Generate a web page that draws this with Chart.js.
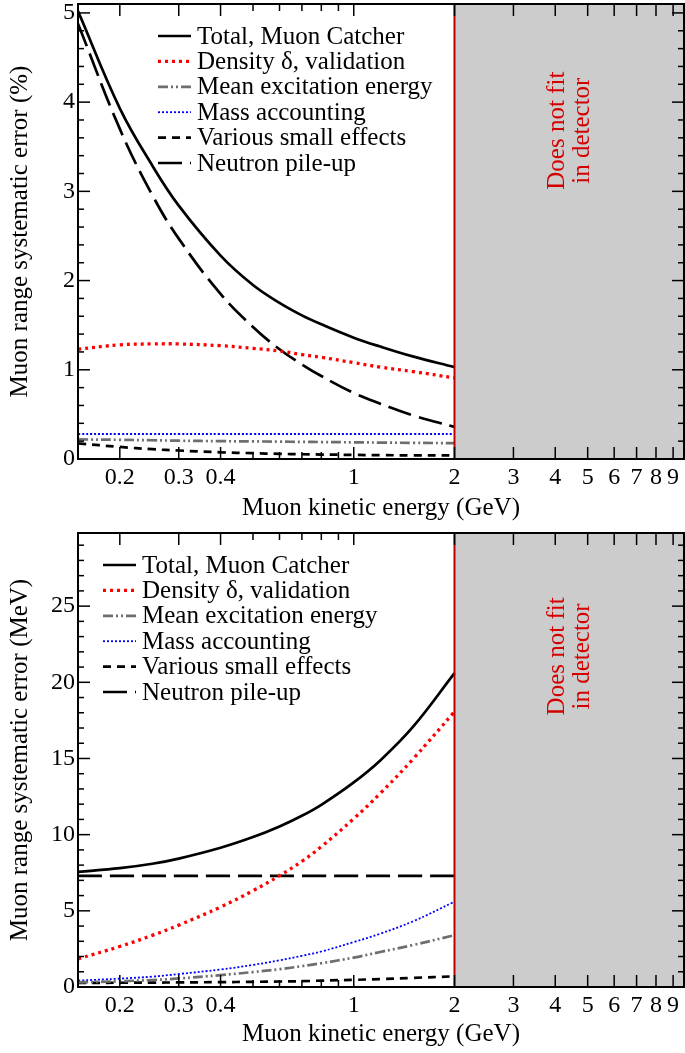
<!DOCTYPE html>
<html lang="en">
<head>
<meta charset="UTF-8">
<title>Muon range systematic error</title>
<script src="https://cdn.jsdelivr.net/npm/chart.js"></script>
<style>
  html, body { margin: 0; padding: 0; background: #fff; }
  .panel { position: relative; width: 685px; }
  #top { height: 527px; }
  #bottom { height: 526px; }
</style>
</head>
<body>
<div class="panel" id="top"><canvas id="pctChart"></canvas></div>
<div class="panel" id="bottom"><canvas id="mevChart"></canvas></div>

<script>
// muon kinetic energy (GeV)
const energy = [0.15, 0.2, 0.25, 0.3, 0.4, 0.5, 0.6, 0.7, 0.8, 1.0, 1.2, 1.5, 2.0];

// top panel: error in %
const totalPct    = [5.02, 3.93, 3.29, 2.84, 2.28, 1.95, 1.75, 1.61, 1.51, 1.36, 1.26, 1.15, 1.03];
const densityPct  = [1.23, 1.28, 1.29, 1.29, 1.27, 1.24, 1.21, 1.17, 1.14, 1.08, 1.03, 0.98, 0.91];
const meanExcPct  = [0.22, 0.215, 0.21, 0.205, 0.20, 0.197, 0.195, 0.192, 0.19, 0.187, 0.184, 0.181, 0.178];
const massPct     = [0.28, 0.28, 0.28, 0.28, 0.28, 0.28, 0.28, 0.28, 0.28, 0.28, 0.28, 0.28, 0.28];
const variousPct  = [0.175, 0.135, 0.11, 0.095, 0.075, 0.065, 0.058, 0.053, 0.05, 0.046, 0.043, 0.041, 0.04];
const neutronPct  = [4.88, 3.70, 2.96, 2.47, 1.85, 1.48, 1.23, 1.06, 0.93, 0.74, 0.62, 0.49, 0.36];

// bottom panel: error in MeV
const totalMeV    = [7.55, 7.80, 8.09, 8.43, 9.14, 9.84, 10.54, 11.24, 11.96, 13.43, 14.87, 17.05, 20.6];
const densityMeV  = [1.85, 2.66, 3.39, 4.06, 5.25, 6.32, 7.31, 8.25, 9.21, 11.05, 12.71, 14.94, 18.07];
const meanExcMeV  = [0.3, 0.38, 0.46, 0.56, 0.78, 0.98, 1.17, 1.37, 1.56, 1.93, 2.3, 2.75, 3.4];
const massMeV     = [0.42, 0.55, 0.68, 0.85, 1.15, 1.45, 1.75, 2.05, 2.33, 2.95, 3.5, 4.3, 5.6];
const variousMeV  = [0.27, 0.28, 0.29, 0.3, 0.32, 0.34, 0.36, 0.38, 0.42, 0.47, 0.52, 0.6, 0.7];
const neutronMeV  = [7.3, 7.3, 7.3, 7.3, 7.3, 7.3, 7.3, 7.3, 7.3, 7.3, 7.3, 7.3, 7.3];

const seriesLabels = ['Total, Muon Catcher', 'Density \u03b4, validation', 'Mean excitation energy',
                      'Mass accounting', 'Various small effects', 'Neutron pile-up'];

// axis ticks
const xMajor = [0.2, 0.3, 0.4, 1, 2, 3, 4, 5, 6, 7, 8, 9];
const xMinor = [0.5, 0.6, 0.7, 0.8, 0.9];
const yMajorPct = [0, 1, 2, 3, 4, 5];
const yMajorMeV = [0, 5, 10, 15, 20, 25];

const detectorLimit = 2;   // GeV, beyond this the muon does not fit

const FONT = "'Liberation Serif', 'Times New Roman', serif";
Chart.defaults.font.family = FONT;
Chart.defaults.font.size = 25;
Chart.defaults.color = '#000';

// line styles, same order as seriesLabels
const styles = [
  { color: '#000000', width: 2.7, dash: [] },
  { color: '#ff0000', width: 3.3, dash: [3, 4] },
  { color: '#6e6e6e', width: 2.7, dash: [10, 3, 2, 3, 2, 3] },
  { color: '#0000ff', width: 1.8, dash: [2, 2] },
  { color: '#000000', width: 2.7, dash: [8, 6] },
  { color: '#000000', width: 2.7, dash: [24, 8] }
];

function buildDatasets(values) {
  return values.map((arr, i) => ({
    label: seriesLabels[i],
    data: energy.map((e, k) => ({ x: e, y: arr[k] })),
    borderColor: styles[i].color,
    borderWidth: styles[i].width,
    borderDash: styles[i].dash,
    pointRadius: 0,
    fill: false,
    tension: 0.4
  }));
}

// shaded region, frame, inward ticks, legend and note
const decorPlugin = {
  id: 'decor',
  beforeDatasetsDraw(chart, args, opts) {
    const { ctx, chartArea: a, scales: { x } } = chart;
    const xl = x.getPixelForValue(detectorLimit);
    ctx.save();
    ctx.fillStyle = '#cccccc';
    ctx.fillRect(xl, a.top, a.right - xl, a.bottom - a.top);
    ctx.restore();
  },
  afterDatasetsDraw(chart, args, opts) {
    const { ctx, chartArea: a, scales: { x, y } } = chart;
    ctx.save();

    // red limit line
    const xl = x.getPixelForValue(detectorLimit);
    ctx.strokeStyle = '#c00000';
    ctx.lineWidth = 2;
    ctx.beginPath();
    ctx.moveTo(xl, a.top);
    ctx.lineTo(xl, a.bottom);
    ctx.stroke();

    // ticks pointing inward on all four sides
    ctx.strokeStyle = '#000';
    ctx.lineWidth = 1.5;
    const tick = (x1, y1, x2, y2) => { ctx.beginPath(); ctx.moveTo(x1, y1); ctx.lineTo(x2, y2); ctx.stroke(); };
    xMajor.concat(xMinor).forEach(v => {
      const px = x.getPixelForValue(v);
      const len = xMajor.includes(v) ? 12 : 7;
      tick(px, a.bottom, px, a.bottom - len);
      tick(px, a.top, px, a.top + len);
    });
    for (let v = 0; v <= y.max + 1e-9; v += opts.yMinorStep) {
      const py = y.getPixelForValue(v);
      const major = opts.yMajor.some(m => Math.abs(m - v) < 1e-6);
      const len = major ? 12 : 6;
      tick(a.left, py, a.left + len, py);
      tick(a.right, py, a.right - len, py);
    }

    // frame
    ctx.lineWidth = 2;
    ctx.strokeRect(a.left, a.top, a.right - a.left, a.bottom - a.top);

    // note in the shaded region
    ctx.fillStyle = '#d40000';
    ctx.font = '25px ' + FONT;
    ctx.textAlign = 'center';
    ctx.textBaseline = 'middle';
    ctx.translate(x.getPixelForValue(opts.noteX), y.getPixelForValue(opts.noteY));
    ctx.rotate(-Math.PI / 2);
    ctx.fillText('Does not fit', 0, -12);
    ctx.fillText('in detector', 0, 13);
    ctx.setTransform(1, 0, 0, 1, 0, 0);
    ctx.restore();

    // legend
    ctx.save();
    ctx.font = '25px ' + FONT;
    ctx.textBaseline = 'middle';
    ctx.textAlign = 'left';
    const lx = a.left + opts.legendDx;
    chart.data.datasets.forEach((ds, i) => {
      const ly = a.top + opts.legendDy + i * 25.4;
      ctx.strokeStyle = ds.borderColor;
      ctx.lineWidth = ds.borderWidth;
      ctx.setLineDash(ds.borderDash);
      ctx.beginPath();
      ctx.moveTo(lx, ly);
      ctx.lineTo(lx + 33, ly);
      ctx.stroke();
      ctx.setLineDash([]);
      ctx.fillStyle = '#000';
      ctx.fillText(ds.label, lx + 39, ly + 1);
    });
    ctx.restore();
  }
};

function makeChart(id, values, cfg) {
  return new Chart(document.getElementById(id), {
    type: 'line',
    data: { datasets: buildDatasets(values) },
    options: {
      responsive: true,
      maintainAspectRatio: false,
      animation: false,
      layout: { padding: { top: cfg.padTop, right: 1, left: 0, bottom: 0 } },
      plugins: {
        legend: { display: false },
        tooltip: { enabled: false },
        decor: cfg.decor
      },
      scales: {
        x: {
          type: 'logarithmic',
          min: 0.15,
          max: 9.7,
          afterBuildTicks: s => { s.ticks = xMajor.map(v => ({ value: v })); },
          afterFit: s => { s.height = cfg.xAxisHeight; s.paddingLeft = 0; s.paddingRight = 0; },
          ticks: { autoSkip: false, maxRotation: 0, padding: 4, font: { size: 24 }, callback: v => String(v) },
          grid: { display: false, drawTicks: false },
          border: { display: false },
          title: { display: true, text: 'Muon kinetic energy (GeV)', padding: { top: 0, bottom: 4 } }
        },
        y: {
          min: 0,
          max: cfg.yMax,
          afterBuildTicks: s => { s.ticks = cfg.decor.yMajor.map(v => ({ value: v })); },
          afterFit: s => { s.width = 78; s.paddingTop = 0; s.paddingBottom = 0; },
          ticks: { padding: 3, font: { size: 24 } },
          grid: { display: false, drawTicks: false },
          border: { display: false },
          title: { display: true, text: cfg.yTitle, padding: { top: 5, bottom: 0 } }
        }
      }
    },
    plugins: [decorPlugin]
  });
}

makeChart('pctChart',
  [totalPct, densityPct, meanExcPct, massPct, variousPct, neutronPct],
  {
    padTop: 4, xAxisHeight: 68, yMax: 5.1,
    yTitle: 'Muon range systematic error (%)',
    decor: { yMajor: yMajorPct, yMinorStep: 0.2, noteX: 4.4, noteY: 3.68, legendDx: 80, legendDy: 32 }
  });

makeChart('mevChart',
  [totalMeV, densityMeV, meanExcMeV, massMeV, variousMeV, neutronMeV],
  {
    padTop: 6, xAxisHeight: 66, yMax: 29.8,
    yTitle: 'Muon range systematic error (MeV)',
    decor: { yMajor: yMajorMeV, yMinorStep: 1, noteX: 4.4, noteY: 21.7, legendDx: 25, legendDy: 32 }
  });
</script>
</body>
</html>
